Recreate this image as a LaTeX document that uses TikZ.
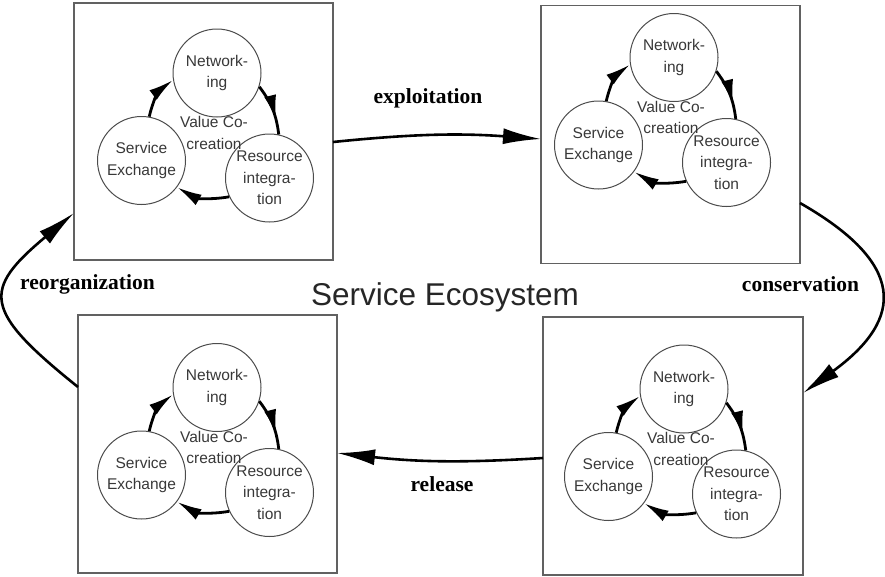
\documentclass[tikz,border=0pt]{standalone}
\usepackage{fontspec}
\setmainfont{Liberation Serif}
\newfontfamily\sansf{Liberation Sans}
\usetikzlibrary{arrows.meta,decorations.markings}

\tikzset{
  panel/.style={draw=black!62, line width=1.3pt, inner sep=0pt, outer sep=0pt,
                minimum width=259pt, minimum height=258pt},
  cnode/.style={circle, draw=black!70, line width=1pt, minimum size=88pt, inner sep=0pt,
                align=center, font=\sansf\fontsize{15.5}{21.5}\selectfont, text=black!78},
  vtext/.style={align=center, font=\sansf\fontsize{15.5}{21.5}\selectfont, text=black!78},
  cyc/.style={line width=2.8pt, draw=black},
  cyctip/.style={-{Latex[length=25pt,width=12pt]}},
  midtip/.style={postaction={decorate}, decoration={markings,
                 mark=at position 0.72 with {\arrow{Latex[length=25pt,width=12pt]}}}},
  phase/.style={line width=2.6pt, -{Latex[length=38pt,width=16pt]}},
  lab/.style={font=\bfseries\fontsize{21.5}{24}\selectfont, anchor=base, inner sep=0pt},
  valuecycle/.pic={
    \node[cnode] (-net) at (0,0) {Network-\\ing};
    \node[cnode] (-svc) at (-75.5,-87.5) {Service\\Exchange};
    \node[cnode] (-res) at (52.5,-105) {Resource\\integra-\\tion};
    \node[vtext] (-val) at (-3,-60) {Value Co-\\creation};
    \draw[cyc, midtip] (-net.-18) to[bend left=15] (-res.78);
    \draw[cyc, cyctip] (-res.205) to[bend left=20] (-svc.-37);
    \draw[cyc, cyctip] (-svc.80) to[bend left=20] (-net.189);
  }
}

\begin{document}
\begin{tikzpicture}[x=1pt, y=1pt]
  \useasboundingbox (0,0) rectangle (885,-576);

  % four phase panels
  \node[panel, minimum height=257pt] (b1) at (203.5,-131.5) {};
  \node[panel] (b2) at (670.5,-134.5) {};
  \node[panel] (b3) at (207.5,-444) {};
  \node[panel, minimum width=260pt] (b4) at (673,-446) {};

  % value co-creation cycle inside each panel
  \pic (c1) at (217,-73) {valuecycle};
  \pic (c2) at (674,-57.5) {valuecycle};
  \pic (c3) at (217,-387.5) {valuecycle};
  \pic (c4) at (684,-389) {valuecycle};

  % adaptive cycle between the panels
  \draw[phase] ([yshift=-10.5pt]b1.east) to[bend left=5] ([yshift=-4.5pt]b2.west);
  \draw[phase] ([yshift=-68.5pt]b2.east) .. controls +(105,-60) and +(103,75) .. ([yshift=53pt]b4.east);
  \draw[phase] ([yshift=-12pt]b4.west) to[bend left=5] ([yshift=-9pt]b3.east);
  \draw[phase] ([yshift=57pt]b3.west) .. controls +(-96,77) and +(-92,-77) .. ([yshift=-81.5pt]b1.west);

  % phase labels
  \node[lab] (l1) at (428,-103) {exploitation};
  \node[lab] (l2) at (800.5,-291.5) {conservation};
  \node[lab] (l3) at (442,-491.5) {release};
  \node[lab] (l4) at (87.5,-289) {reorganization};

  \node[font=\sansf\fontsize{31.5}{36}\selectfont, text=black!85, anchor=base, inner sep=0pt]
    (title) at (445,-305) {Service Ecosystem};
\end{tikzpicture}
\end{document}
